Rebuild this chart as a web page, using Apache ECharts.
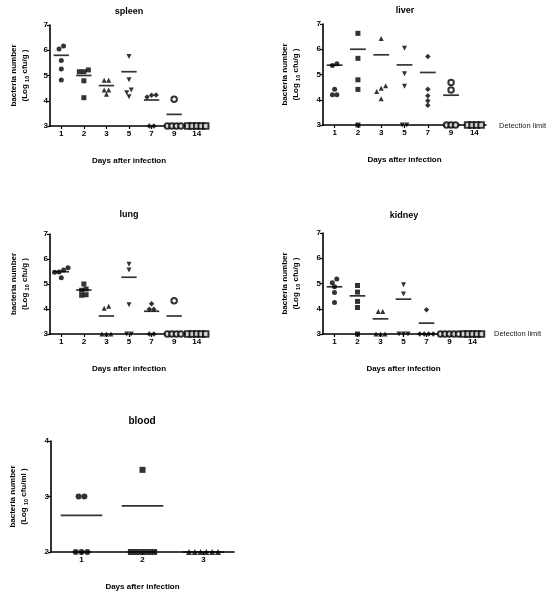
<!DOCTYPE html>
<html><head><meta charset="utf-8">
<script src="https://cdn.jsdelivr.net/npm/echarts@6/dist/echarts.min.js"></script>
<style>html,body{margin:0;padding:0;background:#fff}#c{width:557px;height:599px}</style>
</head><body><div id="c"></div>
<script>
// ---- data ----
const dayLabels = ['1', '2', '3', '5', '7', '9', '14'];
const bloodDays = ['1', '2', '3'];

const spleenValues = [[6.17, 6.05, 5.59, 5.26, 4.82], [5.22, 5.15, 5.15, 4.79, 4.12], [4.81, 4.81, 4.43, 4.26, 4.43], [5.75, 4.83, 4.43, 4.32, 4.16], [4.22, 4.15, 4.23, 3, 3], [4.06, 3, 3, 3, 3], [3, 3, 3, 3, 3]];
const spleenMeans = [5.8, 5.0, 4.6, 5.15, 4.03, 3.46, 3];

const liverValues = [[5.43, 5.36, 4.42, 4.2, 4.2], [6.63, 5.64, 4.79, 4.41, 3], [6.43, 4.46, 4.33, 4.55, 4.04], [6.04, 5.03, 4.53, 3, 3], [5.71, 4.42, 4.16, 3.78, 3.96], [4.68, 4.39, 3, 3, 3], [3, 3, 3, 3]];
const liverMeans = [5.37, 6.0, 5.78, 5.38, 5.08, 4.18, 3];

const lungValues = [[5.56, 5.65, 5.25, 5.47, 5.48], [5.0, 4.8, 4.75, 4.55, 4.57], [4.11, 4.03, 3, 3, 3], [5.79, 5.56, 4.17, 3, 3], [3.99, 3.99, 4.21, 3, 3], [4.33, 3, 3, 3, 3], [3, 3, 3, 3, 3]];
const lungMeans = [5.49, 4.76, 3.72, 5.27, 3.91, 3.72, 3];

const kidneyValues = [[5.18, 5.03, 4.87, 4.64, 4.25], [4.92, 4.66, 4.29, 4.05, 3], [3.89, 3.89, 3, 3, 3], [4.95, 4.58, 3, 3, 3], [3.96, 3, 3, 3, 3], [3, 3, 3, 3, 3], [3, 3, 3, 3, 3]];
const kidneyMeans = [4.87, 4.51, 3.6, 4.38, 3.43, 3, 3];

const bloodValues = [[3, 3, 2, 2, 2], [3.48, 2, 2, 2, 2, 2], [2, 2, 2, 2, 2, 2]];
const bloodMeans = [2.66, 2.83, 2];

const xTitle = 'Days after infection';
const detectionText = 'Detection limit';

// ---- layout / styles ----
const FONT = "'Liberation Sans', Arial, sans-serif";
const organSymbols = [
  {symbol: 'circle'}, {symbol: 'rect'}, {symbol: 'triangle'},
  {symbol: 'triangle', rot: 180}, {symbol: 'diamond'},
  {symbol: 'emptyCircle'}, {symbol: 'emptyRect'}
];
const bloodSymbols = [{symbol: 'circle'}, {symbol: 'rect'}, {symbol: 'triangle'}];

const panels = [
  {title: 'spleen', cats: dayLabels, vals: spleenValues, means: spleenMeans, unit: 'g',
   grid: {left: 50, top: 25, width: 158, height: 101}, min: 3, max: 7, sym: organSymbols,
   spacing: 4.5, thresh: 0.15, size: 5, titlePos: [129, 12], nameGap: 20},
  {title: 'liver', cats: dayLabels, vals: liverValues, means: liverMeans, unit: 'g',
   grid: {left: 323, top: 24, width: 163, height: 101}, min: 3, max: 7, sym: organSymbols,
   spacing: 4.5, thresh: 0.15, size: 5, titlePos: [405, 11], nameGap: 22, det: [499, 126]},
  {title: 'lung', cats: dayLabels, vals: lungValues, means: lungMeans, unit: 'g',
   grid: {left: 50, top: 234, width: 158, height: 100}, min: 3, max: 7, sym: organSymbols,
   spacing: 4.5, thresh: 0.15, size: 5, titlePos: [129, 215], nameGap: 20},
  {title: 'kidney', cats: dayLabels, vals: kidneyValues, means: kidneyMeans, unit: 'g',
   grid: {left: 323, top: 233, width: 161, height: 101}, min: 3, max: 7, sym: organSymbols,
   spacing: 4.5, thresh: 0.15, size: 5, titlePos: [404, 216], nameGap: 22, det: [494, 334]},
  {title: 'blood', cats: bloodDays, vals: bloodValues, means: bloodMeans, unit: 'ml',
   grid: {left: 51, top: 441, width: 183, height: 111}, min: 2, max: 4, sym: bloodSymbols,
   spacing: 5.8, thresh: 0.08, size: 6, titlePos: [142, 421], nameGap: 22, titleSize: 10}
];

function offsets(vals, spacing, thresh) {
  const idx = vals.map((v, i) => i).sort((a, b) => vals[a] - vals[b]);
  const out = new Array(vals.length).fill(0);
  let group = [idx[0]];
  const flush = () => { const n = group.length; group.forEach((k, j) => { out[k] = (j - (n - 1) / 2) * spacing; }); };
  for (let i = 1; i < idx.length; i++) {
    if (vals[idx[i]] - vals[idx[i - 1]] < thresh) group.push(idx[i]);
    else { flush(); group = [idx[i]]; }
  }
  flush();
  return out;
}

const grids = [], xAxes = [], yAxes = [], series = [], graphics = [];
panels.forEach((p, pi) => {
  grids.push(Object.assign({containLabel: false}, p.grid));
  xAxes.push({
    type: 'category', gridIndex: pi, data: p.cats, boundaryGap: true,
    axisLine: {show: true, lineStyle: {color: '#000', width: 1.6}},
    axisTick: {show: true, alignWithLabel: true, length: 3, lineStyle: {color: '#000', width: 1.2}},
    axisLabel: {color: '#000', fontFamily: FONT, fontWeight: 'bold', fontSize: 8, margin: 4},
    splitLine: {show: false},
    name: xTitle, nameLocation: 'middle', nameGap: 31,
    nameTextStyle: {color: '#000', fontFamily: FONT, fontWeight: 'bold', fontSize: 8}
  });
  yAxes.push({
    type: 'value', gridIndex: pi, min: p.min, max: p.max, interval: 1,
    axisLine: {show: true, lineStyle: {color: '#000', width: 1.6}},
    axisTick: {show: true, length: 3, lineStyle: {color: '#000', width: 1.2}},
    axisLabel: {color: '#000', fontFamily: FONT, fontWeight: 'bold', fontSize: 8, margin: 2},
    splitLine: {show: false},
    name: '{n|bacteria number}\n{n|(Log }{s|10}{n| cfu/' + p.unit + ' )}',
    nameLocation: 'middle', nameRotate: 90, nameGap: p.nameGap,
    nameTextStyle: {
      color: '#000', fontFamily: FONT, fontWeight: 'bold', fontSize: 8, lineHeight: 11,
      rich: {
        n: {fontFamily: FONT, fontWeight: 'bold', fontSize: 8, color: '#000', lineHeight: 11},
        s: {fontFamily: FONT, fontWeight: 'bold', fontSize: 5.5, color: '#000', verticalAlign: 'bottom', lineHeight: 11, padding: [3, 0, 0, 0]}
      }
    }
  });
  const bandW = p.grid.width / p.cats.length;
  // mean lines
  series.push({
    type: 'scatter', xAxisIndex: pi, yAxisIndex: pi, clip: false, silent: true, z: 3,
    symbol: 'rect', symbolSize: [bandW * 0.68, 1.7],
    itemStyle: {color: '#000'},
    data: p.means.map((m, ci) => [ci, m])
  });
  // points
  const pts = [];
  p.vals.forEach((arr, ci) => {
    const offs = offsets(arr, p.spacing, p.thresh);
    const s = p.sym[ci];
    arr.forEach((v, k) => {
      const empty = s.symbol.indexOf('empty') === 0;
      pts.push({
        value: [ci, v], symbol: s.symbol, symbolRotate: s.rot || 0,
        symbolOffset: [offs[k], 0],
        symbolSize: s.symbol === 'diamond' ? p.size + 0.5 : (empty ? p.size + 0.5 : p.size),
        itemStyle: empty ? {color: '#000', borderColor: '#000', borderWidth: 1.2} : {color: '#000'}
      });
    });
  });
  series.push({type: 'scatter', xAxisIndex: pi, yAxisIndex: pi, clip: false, silent: true, z: 4, data: pts});
  graphics.push({
    type: 'text', x: p.titlePos[0], y: p.titlePos[1],
    style: {text: p.title, align: 'center', verticalAlign: 'middle', textAlign: 'center', textVerticalAlign: 'middle',
            font: 'bold ' + (p.titleSize || 9) + 'px ' + FONT, fill: '#000'}
  });
  if (p.det) {
    graphics.push({
      type: 'text', x: p.det[0], y: p.det[1],
      style: {text: detectionText, align: 'left', verticalAlign: 'middle', textAlign: 'left', textVerticalAlign: 'middle',
              font: '7.5px ' + FONT, fill: '#222'}
    });
  }
});

const chart = echarts.init(document.getElementById('c'), null, {renderer: 'canvas'});
chart.setOption({
  animation: false, backgroundColor: '#fff',
  grid: grids, xAxis: xAxes, yAxis: yAxes, series: series, graphic: graphics
});
</script></body></html>
